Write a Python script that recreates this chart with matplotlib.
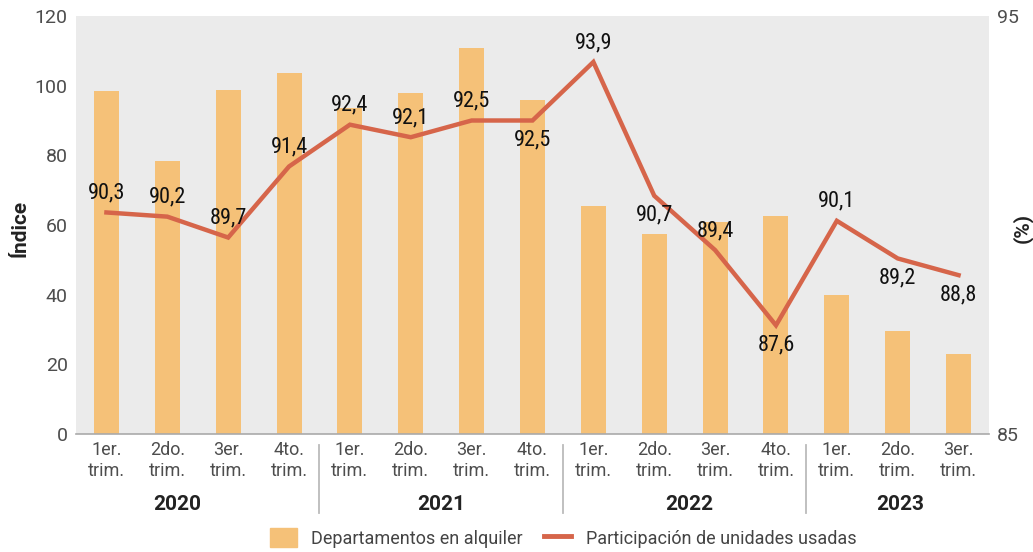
import matplotlib
matplotlib.use("Agg")
import matplotlib.pyplot as plt
from matplotlib.patches import Patch
from matplotlib.lines import Line2D

quarters = ["1er.\ntrim.", "2do.\ntrim.", "3er.\ntrim.", "4to.\ntrim.",
            "1er.\ntrim.", "2do.\ntrim.", "3er.\ntrim.", "4to.\ntrim.",
            "1er.\ntrim.", "2do.\ntrim.", "3er.\ntrim.", "4to.\ntrim.",
            "1er.\ntrim.", "2do.\ntrim.", "3er.\ntrim."]
years = ["2020", "2021", "2022", "2023"]
year_counts = [4, 4, 4, 3]
alquiler = [98.5, 78.4, 98.8, 103.6, 93.5, 97.9, 110.8, 95.9,
            65.5, 57.4, 61.0, 62.6, 39.9, 29.6, 23.0]
usadas = [90.3, 90.2, 89.7, 91.4, 92.4, 92.1, 92.5, 92.5,
          93.9, 90.7, 89.4, 87.6, 90.1, 89.2, 88.8]
label_pos = ["a", "a", "a", "a", "a", "a", "a", "b",
             "a", "b", "a", "b", "a", "b", "b"]

BAR = "#f5c178"
LINE = "#d6654a"
BG = "#ebebeb"
TICK = "#4d4d4d"
REG = ["Roboto", "DejaVu Sans"]
COND = ["Roboto Condensed", "Liberation Sans Narrow", "DejaVu Sans"]

plt.rcParams["font.family"] = REG

fig = plt.figure(figsize=(10.33, 5.52), dpi=100)
ax = fig.add_axes([76/1033, 1-434/552, 913/1033, 418/552])
ax.set_facecolor(BG)
x = list(range(len(alquiler)))
ax.bar(x, alquiler, width=0.41, color=BAR, zorder=2)
ax.set_xlim(-0.5, len(alquiler)-0.5)
ax.set_ylim(0, 120)
ax.set_yticks(range(0, 121, 20))
for s in ["top", "right", "left"]:
    ax.spines[s].set_visible(False)
ax.spines["bottom"].set_color("#aaaaaa")
ax.spines["bottom"].set_linewidth(1.2)
ax.tick_params(axis="y", length=0, labelsize=14, labelcolor=TICK, pad=6)
ax.set_xticks(x)
ax.set_xticklabels(quarters, fontsize=13, color=TICK, linespacing=1.25)
ax.tick_params(axis="x", length=0, pad=5)
fig.text(20/1033, 1-228/552, "Índice", rotation=90, ha="center", va="center",
         fontsize=15, fontweight="bold", color="#222222")

ax2 = ax.twinx()
ax2.set_ylim(85, 95)
ax2.set_yticks([85, 95])
for s in ["top", "right", "left", "bottom"]:
    ax2.spines[s].set_visible(False)
ax2.tick_params(axis="y", length=0, labelsize=14, labelcolor=TICK, pad=6)
ax2.plot(x, usadas, color=LINE, linewidth=3.2, zorder=3, solid_joinstyle="miter")
fig.text(1022/1033, 1-228/552, "(%)", rotation=90, ha="center", va="center",
         fontsize=15, fontweight="bold", color="#222222")

for xi, v, p in zip(x, usadas, label_pos):
    off = 14 if p == "a" else -14
    ax2.annotate(f"{v:.1f}".replace(".", ","), (xi, v), xytext=(0, off),
                 textcoords="offset points", ha="center", va="center",
                 fontsize=16, family=COND, fontstretch="condensed",
                 color="#111111", zorder=4)

# year labels and separators
year_x = [1.17, 5.5, 9.57, 13.05]
start = 0
for yr, c, yx in zip(years, year_counts, year_x):
    ax.text(yx, -0.168, yr, transform=ax.get_xaxis_transform(), ha="center",
            va="center", fontsize=15, fontweight="bold", color="#222222")
    if start + c < len(alquiler):
        ax.plot([start + c - 0.5] * 2, [-0.027, -0.188], transform=ax.get_xaxis_transform(),
                color="#bbbbbb", linewidth=1.3, clip_on=False)
    start += c

handles = [Patch(facecolor=BAR, edgecolor=BAR),
           Line2D([0], [0], color=LINE, linewidth=3.5)]
fig.legend(handles, ["Departamentos en alquiler", "Participación de unidades usadas"],
           loc="center", bbox_to_anchor=(563/1033, 1-538/552), ncol=2, frameon=False,
           fontsize=13, labelcolor="#444444", handlelength=1.5, handleheight=1.2,
           columnspacing=1.2, handletextpad=0.8)

fig.savefig("out.png", dpi=100)
